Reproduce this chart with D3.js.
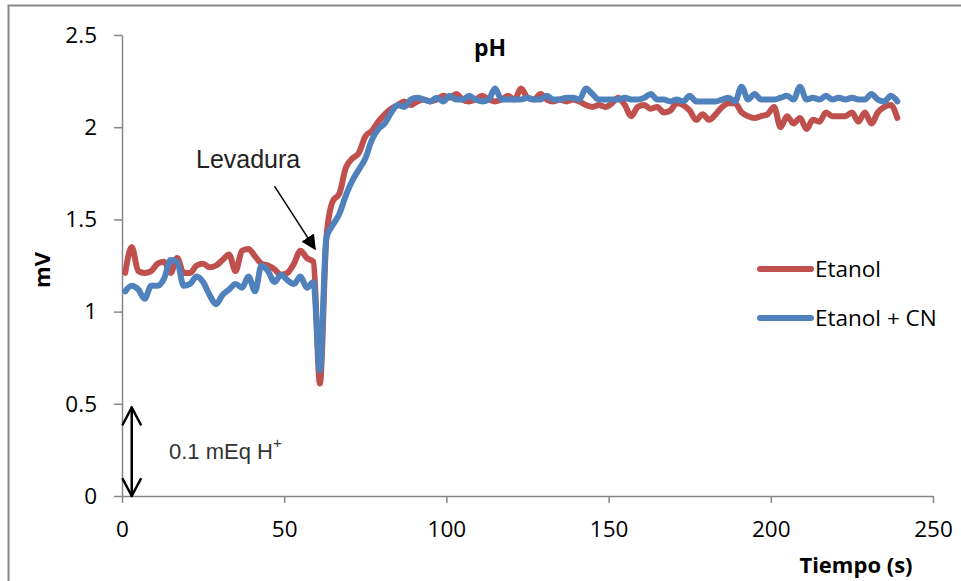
<!DOCTYPE html>
<html>
<head>
<meta charset="utf-8">
<script src="https://cdn.jsdelivr.net/npm/d3@7"></script>
<style>
  body { margin: 0; background: #fff; }
  text { font-family: "Open Sans", sans-serif; }
</style>
</head>
<body>
<div id="chart"></div>
<script>
// tiempo (s) - one reading every 2 s
var tiempo = d3.range(1, 240, 2)

var etanol = [
  1.21, 1.35, 1.22, 1.21, 1.22, 1.26, 1.27, 1.21, 1.29, 1.21,
  1.21, 1.25, 1.26, 1.24, 1.25, 1.28, 1.31, 1.22, 1.33, 1.34,
  1.30, 1.26, 1.25, 1.23, 1.20, 1.21, 1.26, 1.33, 1.29, 1.27,
  0.61, 1.40, 1.60, 1.64, 1.78, 1.83, 1.86, 1.95, 1.98, 2.03,
  2.07, 2.10, 2.12, 2.14, 2.12, 2.14, 2.15, 2.14, 2.15, 2.17,
  2.16, 2.18, 2.15, 2.14, 2.15, 2.17, 2.15, 2.14, 2.15, 2.17,
  2.15, 2.21, 2.16, 2.15, 2.18, 2.15, 2.14, 2.15, 2.14, 2.15,
  2.14, 2.12, 2.11, 2.12, 2.11, 2.13, 2.16, 2.12, 2.06, 2.11,
  2.12, 2.10, 2.11, 2.08, 2.09, 2.13, 2.12, 2.09, 2.04, 2.07,
  2.04, 2.07, 2.11, 2.13, 2.13, 2.08, 2.06, 2.05, 2.06, 2.07,
  2.11, 2.00, 2.06, 2.02, 2.05, 1.99, 2.04, 2.03, 2.08, 2.06,
  2.06, 2.06, 2.08, 2.03, 2.08, 2.02, 2.08, 2.11, 2.12, 2.05
]

var etanolCN = [
  1.11, 1.14, 1.12, 1.07, 1.14, 1.14, 1.18, 1.28, 1.27, 1.14,
  1.15, 1.19, 1.16, 1.09, 1.04, 1.09, 1.12, 1.15, 1.13, 1.19,
  1.11, 1.25, 1.22, 1.16, 1.20, 1.17, 1.15, 1.19, 1.13, 1.16,
  0.68, 1.40, 1.47, 1.53, 1.63, 1.71, 1.77, 1.83, 1.93, 1.99,
  2.02, 2.08, 2.12, 2.11, 2.15, 2.16, 2.15, 2.14, 2.16, 2.14,
  2.17, 2.15, 2.15, 2.17, 2.15, 2.14, 2.15, 2.21, 2.15, 2.15,
  2.15, 2.15, 2.16, 2.15, 2.15, 2.17, 2.15, 2.15, 2.16, 2.16,
  2.15, 2.21, 2.18, 2.15, 2.15, 2.15, 2.15, 2.16, 2.15, 2.15,
  2.16, 2.18, 2.15, 2.15, 2.14, 2.15, 2.14, 2.17, 2.14, 2.14,
  2.14, 2.14, 2.15, 2.16, 2.14, 2.22, 2.15, 2.18, 2.15, 2.15,
  2.15, 2.16, 2.17, 2.15, 2.22, 2.15, 2.16, 2.15, 2.17, 2.15,
  2.16, 2.15, 2.16, 2.15, 2.15, 2.18, 2.15, 2.14, 2.17, 2.14
]

var xTicks = [0, 50, 100, 150, 200, 250]
var yTicks = [0, 0.5, 1, 1.5, 2, 2.5]
var series = [
  {name: "Etanol", values: etanol, color: "#C0504D"},
  {name: "Etanol + CN", values: etanolCN, color: "#4F81BD"}
]

var width = 961, height = 581
var margin = {top: 35, right: 28, bottom: 85, left: 122}
var w = 933 - margin.left, h = 496 - margin.top

var svg = d3.select("#chart").append("svg")
    .attr("width", width)
    .attr("height", height)

// outer chart border
svg.append("rect")
    .attr("x", 8.5).attr("y", 5.5)
    .attr("width", 980).attr("height", 600)
    .attr("fill", "none")
    .attr("stroke", "#868686")
    .attr("stroke-width", 2)

var g = svg.append("g")
    .attr("transform", "translate(" + margin.left + "," + margin.top + ")")

var x = d3.scaleLinear().domain([0, 250]).range([0, w])
var y = d3.scaleLinear().domain([0, 2.5]).range([h, 0])

// X axis
g.append("g")
    .attr("transform", "translate(0," + h + ")")
    .call(d3.axisBottom(x).tickValues(xTicks).tickSize(7).tickSizeOuter(0).tickPadding(26)
      .tickFormat(d3.format("d")))
    .call(a => a.select(".domain").attr("stroke", "#868686").attr("stroke-width", 1.5))
    .call(a => a.selectAll(".tick line").attr("stroke", "#868686").attr("stroke-width", 1.5))
    .call(a => a.selectAll(".tick text").attr("font-size", "22.5px").attr("fill", "#000")
      .attr("dy", "0.35em").style("font-family", "'Open Sans', sans-serif"))

// Y axis
g.append("g")
    .call(d3.axisLeft(y).tickValues(yTicks).tickSize(8).tickSizeOuter(0).tickPadding(17)
      .tickFormat(d => d))
    .call(a => a.select(".domain").attr("stroke", "#868686").attr("stroke-width", 1.5))
    .call(a => a.selectAll(".tick line").attr("stroke", "#868686").attr("stroke-width", 1.5))
    .call(a => a.selectAll(".tick text").attr("font-size", "22.5px").attr("fill", "#000")
      .style("font-family", "'Open Sans', sans-serif"))

// lines
var line = d3.line()
    .x((d, i) => x(tiempo[i]))
    .y(d => y(d))
    .curve(d3.curveMonotoneX)

series.forEach(function(s) {
  g.append("path")
      .datum(s.values)
      .attr("fill", "none")
      .attr("stroke", s.color)
      .attr("stroke-width", 6)
      .attr("stroke-linejoin", "round")
      .attr("stroke-linecap", "round")
      .attr("d", line)
})

// title and axis titles
svg.append("text")
    .attr("x", 490).attr("y", 56)
    .attr("text-anchor", "middle")
    .attr("font-size", "23px").attr("font-weight", "bold")
    .text("pH")

svg.append("text")
    .attr("transform", "translate(50,270) rotate(-90)")
    .attr("text-anchor", "middle")
    .attr("font-size", "22px").attr("font-weight", "bold")
    .text("mV")

svg.append("text")
    .attr("x", 856).attr("y", 573)
    .attr("text-anchor", "middle")
    .attr("font-size", "22px").attr("font-weight", "bold")
    .text("Tiempo (s)")

// legend
var legend = svg.append("g")
series.forEach(function(s, i) {
  var ly = 269 + i * 49
  legend.append("line")
      .attr("x1", 760).attr("x2", 811)
      .attr("y1", ly).attr("y2", ly)
      .attr("stroke", s.color)
      .attr("stroke-width", 6)
      .attr("stroke-linecap", "round")
  legend.append("text")
      .attr("x", 815).attr("y", ly + 8)
      .attr("font-size", "22.5px")
      .text(s.name)
})

// annotations
var defs = svg.append("defs")
defs.append("marker")
    .attr("id", "head")
    .attr("viewBox", "0 0 10 10")
    .attr("refX", 9).attr("refY", 5)
    .attr("markerWidth", 10).attr("markerHeight", 10)
    .attr("orient", "auto")
  .append("path")
    .attr("d", "M0,0L10,5L0,10z")
    .attr("fill", "#000")

svg.append("text")
    .attr("x", 196).attr("y", 168)
    .attr("font-size", "25px")
    .attr("fill", "#222")
    .style("font-family", "'Liberation Sans', Arial, sans-serif")
    .text("Levadura")

svg.append("line")
    .attr("x1", x(47) + margin.left).attr("y1", y(1.68) + margin.top)
    .attr("x2", x(59.5) + margin.left).attr("y2", y(1.34) + margin.top)
    .attr("stroke", "#000")
    .attr("stroke-width", 1.5)
    .attr("marker-end", "url(#head)")

// double arrow 0 - 0.48
var ax = x(3) + margin.left, aTop = y(0.48) + margin.top, aBot = y(0) + margin.top
var arrow = svg.append("g")
    .attr("fill", "none")
    .attr("stroke", "#000")
    .attr("stroke-width", 2.5)
    .attr("stroke-linecap", "round")
    .attr("stroke-linejoin", "round")
arrow.append("line")
    .attr("x1", ax).attr("x2", ax)
    .attr("y1", aTop).attr("y2", aBot)
arrow.append("path")
    .attr("d", "M" + (ax - 9) + "," + (aTop + 17) + "L" + ax + "," + aTop + "L" + (ax + 9) + "," + (aTop + 17))
arrow.append("path")
    .attr("d", "M" + (ax - 9) + "," + (aBot - 17) + "L" + ax + "," + aBot + "L" + (ax + 9) + "," + (aBot - 17))

var lab = svg.append("text")
    .attr("x", 169).attr("y", 459)
    .attr("font-size", "22px")
    .attr("fill", "#333")
    .style("font-family", "'Liberation Sans', Arial, sans-serif")
lab.append("tspan").text("0.1 mEq H")
lab.append("tspan").attr("dy", -11).attr("font-size", "15px").text("+")
</script>
</body>
</html>
